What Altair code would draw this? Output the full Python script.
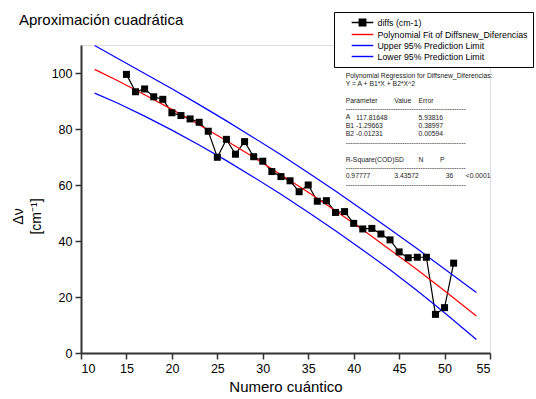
import altair as alt
import pandas as pd

# ---- data ----
qn = list(range(15, 52))
diffs = [99.5, 93.3, 94.3, 91.5, 90.6, 85.8, 84.8, 83.6, 82.4, 79.2,
         69.9, 76.3, 71.0, 75.5, 70.1, 68.5, 64.8, 63.0, 61.5, 57.6,
         60.0, 54.2, 54.4, 50.2, 50.5, 46.3, 44.3, 44.5, 42.5, 40.4,
         36.1, 34.0, 34.2, 34.2, 13.8, 16.2, 32.1]

fit_x = [11.5, 14, 17, 20, 23, 26, 29, 32, 35, 38, 41, 44, 47, 50, 53.5]
fit_y = [101.3, 97.3, 92.2, 87.0, 81.5, 75.8, 69.9, 63.7, 57.4, 50.8, 44.0, 36.9, 29.7, 22.2, 13.2]
upper_y = [109.8, 105.3, 99.8, 94.4, 88.7, 82.9, 76.9, 70.8, 64.4, 57.9, 51.1, 44.2, 37.2, 30.0, 21.6]
lower_y = [92.8, 89.3, 84.6, 79.6, 74.3, 68.7, 62.8, 56.7, 50.3, 43.7, 36.8, 29.7, 22.2, 14.4, 4.8]

series_names = ["diffs (cm-1)", "Polynomial Fit of Diffsnew_Diferencias",
                "Upper 95% Prediction Limit", "Lower 95% Prediction Limit"]
series_colors = ["black", "#ff0000", "#0000ff", "#0000ff"]

x_ticks = [10, 12.5, 15, 17.5, 20, 22.5, 25, 27.5, 30, 32.5, 35, 37.5, 40, 42.5, 45, 47.5, 50, 52.5, 55]
y_ticks = [0, 10, 20, 30, 40, 50, 60, 70, 80, 90, 100, 110]

# regression report text (groups of consecutive lines)
dash = "-" * 53
rep_head = ["Polynomial Regression for Diffsnew_Diferencias:", "Y = A + B1*X + B2*X^2"]
rep_params = ["Parameter", dash, "A", "B1", "B2", dash]
rep_stats = ["R-Square(COD)SD", dash, "0.97777", dash]
rep_values = ["117.81648", "-1.29663", "-0.01231"]
rep_errors = ["5.93816", "0.38997", "0.00594"]

# ---- tables ----
rows = []
for xv, yv in zip(qn, diffs):
    rows.append({"x": xv, "y": yv, "series": series_names[0]})
for name, ys in zip(series_names[1:], [fit_y, upper_y, lower_y]):
    for xv, yv in zip(fit_x, ys):
        rows.append({"x": xv, "y": yv, "series": name})
lines_df = pd.DataFrame(rows)
pts_df = pd.DataFrame({"x": qn, "y": diffs})
legend_df = pd.DataFrame({"series": series_names, "x": [None] * 4, "y": [None] * 4})

FONT = "Liberation Sans"
AX = "#333333"

x_axis = alt.Axis(values=x_ticks, labelExpr="datum.value % 5 == 0 ? datum.label : ''",
                  tickSize={"condition": {"test": "datum.value % 5 == 0", "value": 6}, "value": 4},
                  labelOverlap=False, grid=False, domainColor=AX, domainWidth=2,
                  tickColor=AX, tickWidth=1.5, labelFont=FONT, labelFontSize=12.5,
                  labelColor="black", labelPadding=3, title="Numero cuántico",
                  titleFont=FONT, titleFontSize=15, titleFontWeight="normal",
                  titleColor="black", titlePadding=5)
y_axis = alt.Axis(values=y_ticks, labelExpr="datum.value % 20 == 0 ? datum.label : ''",
                  tickSize={"condition": {"test": "datum.value % 20 == 0", "value": 6}, "value": 4},
                  labelOverlap=False, grid=False, domainColor=AX, domainWidth=2,
                  tickColor=AX, tickWidth=1.5, labelFont=FONT, labelFontSize=12.5,
                  labelColor="black", labelPadding=3, title=["Δν", "[cm⁻¹]"],
                  titleFont=FONT, titleFontSize=14, titleFontWeight="normal",
                  titleColor="black", titleAngle=270, titleX=-63, titleY=171,
                  titleAlign="center", titleBaseline="middle", titleLineHeight=18)

xs = alt.Scale(domain=[10, 55], nice=False, zero=False)
ysc = alt.Scale(domain=[0, 110], nice=False)

sq_path = ("M-2.4,0H2.4M-0.72,-0.72H0.72V0.72H-0.72Z"
           "M-0.72,-0.5H0.72M-0.72,-0.28H0.72M-0.72,-0.06H0.72"
           "M-0.72,0.16H0.72M-0.72,0.38H0.72M-0.72,0.6H0.72")
ln_path = "M-2.4,0H2.4"


def mk_legend():
    return alt.Legend(
        title=None, orient="none", legendX=253, legendY=-33, padding=5,
        strokeColor="black", fillColor="white",
        symbolSize=81, symbolStrokeWidth=1.4, symbolOffset=18, labelOffset=9.5,
        symbolOpacity=1, labelLimit=400,
        labelFont=FONT, labelFontSize=8.8, labelColor="black", rowPadding=0)


color_scale = alt.Scale(domain=series_names, range=series_colors)
shape_scale = alt.Scale(domain=series_names, range=[sq_path, ln_path, ln_path, ln_path])

legend_layer = alt.Chart(legend_df).mark_point(filled=False, strokeWidth=1.4).encode(
    x=alt.X("x:Q", scale=xs), y=alt.Y("y:Q", scale=ysc),
    color=alt.Color("series:N", scale=color_scale, legend=mk_legend()),
    shape=alt.Shape("series:N", scale=shape_scale, legend=mk_legend()),
)

lines = alt.Chart(lines_df).mark_line(strokeWidth=1.2).encode(
    x=alt.X("x:Q", scale=xs, axis=x_axis),
    y=alt.Y("y:Q", scale=ysc, axis=y_axis),
    color=alt.Color("series:N", scale=color_scale, legend=mk_legend()),
    detail="series:N",
    order="x:Q",
)
points = alt.Chart(pts_df).mark_square(size=49, color="black", opacity=1).encode(
    x=alt.X("x:Q", scale=xs), y=alt.Y("y:Q", scale=ysc))

LH = 8.4


def txt(lines_list, xpix, row):
    val = lines_list if isinstance(lines_list, list) and len(lines_list) > 1 else (
        lines_list[0] if isinstance(lines_list, list) else lines_list)
    return alt.Chart(pd.DataFrame({"t": [0]})).mark_text(
        align="left", baseline="top", font=FONT, fontSize=6.8, color="#222222",
        lineHeight=LH).encode(
        x=alt.value(xpix), y=alt.value(27.5 + LH * row), text=alt.value(val))


texts = [
    txt(rep_head, 264.7, 0), txt(rep_params, 264.7, 3), txt(rep_stats, 264.7, 10),
    txt(rep_values, 275, 5),
    txt("Value", 313.3, 3), txt("3.43572", 313.3, 12),
    txt("Error", 337.5, 3), txt(rep_errors, 337.5, 5), txt("N", 337.5, 10),
    txt("P", 359, 10), txt("36", 364.7, 12), txt("<0.0001", 384.7, 12),
]

chart = alt.layer(legend_layer, lines, points, *texts).properties(
    width=409, height=308,
    padding={"left": 81, "top": 45, "right": 46, "bottom": 46},
    autosize=alt.AutoSizeParams(type="none"),
    title=alt.TitleParams("Aproximación cuadrática", anchor="start", frame="group",
                          dx=-62, dy=20, font=FONT, fontSize=15, fontWeight="normal",
                          color="black"),
).configure_view(stroke=None).configure_legend(strokeWidth=1).configure(background="white")

chart.save("out.html", embed_options={"renderer": "svg", "actions": False})
